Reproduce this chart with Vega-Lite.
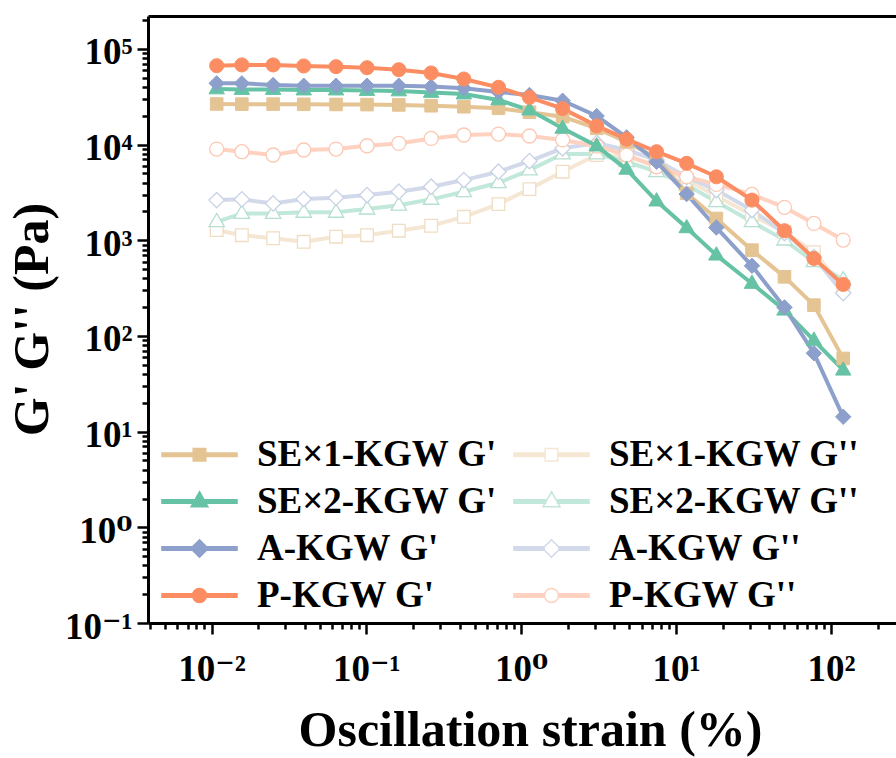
{
  "$schema": "https://vega.github.io/schema/vega-lite/v6.json",
  "width": 748,
  "height": 607,
  "autosize": {"type": "none"},
  "padding": {"left": 148, "top": 16, "right": 0, "bottom": 135},
  "background": "white",
  "config": {"view": {"stroke": null}},
  "data": {"values": [
    {"s": "SE×1-KGW G'", "kind": "storage", "x": 0.0108, "y": 26600},
    {"s": "SE×1-KGW G'", "kind": "storage", "x": 0.0157, "y": 26500},
    {"s": "SE×1-KGW G'", "kind": "storage", "x": 0.025, "y": 26500},
    {"s": "SE×1-KGW G'", "kind": "storage", "x": 0.0394, "y": 26400},
    {"s": "SE×1-KGW G'", "kind": "storage", "x": 0.0637, "y": 26300},
    {"s": "SE×1-KGW G'", "kind": "storage", "x": 0.101, "y": 26200},
    {"s": "SE×1-KGW G'", "kind": "storage", "x": 0.162, "y": 26000},
    {"s": "SE×1-KGW G'", "kind": "storage", "x": 0.262, "y": 25500},
    {"s": "SE×1-KGW G'", "kind": "storage", "x": 0.426, "y": 24900},
    {"s": "SE×1-KGW G'", "kind": "storage", "x": 0.713, "y": 24000},
    {"s": "SE×1-KGW G'", "kind": "storage", "x": 1.13, "y": 21800},
    {"s": "SE×1-KGW G'", "kind": "storage", "x": 1.85, "y": 19600},
    {"s": "SE×1-KGW G'", "kind": "storage", "x": 3.07, "y": 14800},
    {"s": "SE×1-KGW G'", "kind": "storage", "x": 4.79, "y": 10700},
    {"s": "SE×1-KGW G'", "kind": "storage", "x": 7.48, "y": 7240},
    {"s": "SE×1-KGW G'", "kind": "storage", "x": 11.7, "y": 3100},
    {"s": "SE×1-KGW G'", "kind": "storage", "x": 18.2, "y": 1690},
    {"s": "SE×1-KGW G'", "kind": "storage", "x": 30.9, "y": 789},
    {"s": "SE×1-KGW G'", "kind": "storage", "x": 50.1, "y": 415},
    {"s": "SE×1-KGW G'", "kind": "storage", "x": 77.6, "y": 210},
    {"s": "SE×1-KGW G'", "kind": "storage", "x": 120, "y": 58.2},

    {"s": "SE×2-KGW G'", "kind": "storage", "x": 0.0108, "y": 38200},
    {"s": "SE×2-KGW G'", "kind": "storage", "x": 0.0157, "y": 37700},
    {"s": "SE×2-KGW G'", "kind": "storage", "x": 0.025, "y": 37700},
    {"s": "SE×2-KGW G'", "kind": "storage", "x": 0.0394, "y": 37200},
    {"s": "SE×2-KGW G'", "kind": "storage", "x": 0.0637, "y": 37200},
    {"s": "SE×2-KGW G'", "kind": "storage", "x": 0.101, "y": 36800},
    {"s": "SE×2-KGW G'", "kind": "storage", "x": 0.162, "y": 36400},
    {"s": "SE×2-KGW G'", "kind": "storage", "x": 0.262, "y": 35100},
    {"s": "SE×2-KGW G'", "kind": "storage", "x": 0.426, "y": 33800},
    {"s": "SE×2-KGW G'", "kind": "storage", "x": 0.713, "y": 29300},
    {"s": "SE×2-KGW G'", "kind": "storage", "x": 1.13, "y": 23000},
    {"s": "SE×2-KGW G'", "kind": "storage", "x": 1.85, "y": 14800},
    {"s": "SE×2-KGW G'", "kind": "storage", "x": 3.07, "y": 9660},
    {"s": "SE×2-KGW G'", "kind": "storage", "x": 4.79, "y": 5520},
    {"s": "SE×2-KGW G'", "kind": "storage", "x": 7.48, "y": 2570},
    {"s": "SE×2-KGW G'", "kind": "storage", "x": 11.7, "y": 1350},
    {"s": "SE×2-KGW G'", "kind": "storage", "x": 18.2, "y": 700},
    {"s": "SE×2-KGW G'", "kind": "storage", "x": 30.9, "y": 354},
    {"s": "SE×2-KGW G'", "kind": "storage", "x": 50.1, "y": 186},
    {"s": "SE×2-KGW G'", "kind": "storage", "x": 77.6, "y": 90},
    {"s": "SE×2-KGW G'", "kind": "storage", "x": 120, "y": 43.9},

    {"s": "A-KGW G'", "kind": "storage", "x": 0.0108, "y": 43700},
    {"s": "A-KGW G'", "kind": "storage", "x": 0.0157, "y": 43700},
    {"s": "A-KGW G'", "kind": "storage", "x": 0.025, "y": 42000},
    {"s": "A-KGW G'", "kind": "storage", "x": 0.0394, "y": 41300},
    {"s": "A-KGW G'", "kind": "storage", "x": 0.0637, "y": 41300},
    {"s": "A-KGW G'", "kind": "storage", "x": 0.101, "y": 41300},
    {"s": "A-KGW G'", "kind": "storage", "x": 0.162, "y": 41300},
    {"s": "A-KGW G'", "kind": "storage", "x": 0.262, "y": 40400},
    {"s": "A-KGW G'", "kind": "storage", "x": 0.426, "y": 38800},
    {"s": "A-KGW G'", "kind": "storage", "x": 0.713, "y": 35500},
    {"s": "A-KGW G'", "kind": "storage", "x": 1.13, "y": 33000},
    {"s": "A-KGW G'", "kind": "storage", "x": 1.85, "y": 28800},
    {"s": "A-KGW G'", "kind": "storage", "x": 3.07, "y": 19900},
    {"s": "A-KGW G'", "kind": "storage", "x": 4.79, "y": 11900},
    {"s": "A-KGW G'", "kind": "storage", "x": 7.48, "y": 6620},
    {"s": "A-KGW G'", "kind": "storage", "x": 11.7, "y": 3040},
    {"s": "A-KGW G'", "kind": "storage", "x": 18.2, "y": 1360},
    {"s": "A-KGW G'", "kind": "storage", "x": 30.9, "y": 541},
    {"s": "A-KGW G'", "kind": "storage", "x": 50.1, "y": 199},
    {"s": "A-KGW G'", "kind": "storage", "x": 77.6, "y": 66},
    {"s": "A-KGW G'", "kind": "storage", "x": 120, "y": 14.3},

    {"s": "P-KGW G'", "kind": "storage", "x": 0.0108, "y": 66900},
    {"s": "P-KGW G'", "kind": "storage", "x": 0.0157, "y": 68100},
    {"s": "P-KGW G'", "kind": "storage", "x": 0.025, "y": 68100},
    {"s": "P-KGW G'", "kind": "storage", "x": 0.0394, "y": 66400},
    {"s": "P-KGW G'", "kind": "storage", "x": 0.0637, "y": 65300},
    {"s": "P-KGW G'", "kind": "storage", "x": 0.101, "y": 63700},
    {"s": "P-KGW G'", "kind": "storage", "x": 0.162, "y": 60700},
    {"s": "P-KGW G'", "kind": "storage", "x": 0.262, "y": 56100},
    {"s": "P-KGW G'", "kind": "storage", "x": 0.426, "y": 48500},
    {"s": "P-KGW G'", "kind": "storage", "x": 0.713, "y": 39700},
    {"s": "P-KGW G'", "kind": "storage", "x": 1.13, "y": 31200},
    {"s": "P-KGW G'", "kind": "storage", "x": 1.85, "y": 23800},
    {"s": "P-KGW G'", "kind": "storage", "x": 3.07, "y": 15700},
    {"s": "P-KGW G'", "kind": "storage", "x": 4.79, "y": 11400},
    {"s": "P-KGW G'", "kind": "storage", "x": 7.48, "y": 8430},
    {"s": "P-KGW G'", "kind": "storage", "x": 11.7, "y": 6370},
    {"s": "P-KGW G'", "kind": "storage", "x": 18.2, "y": 4610},
    {"s": "P-KGW G'", "kind": "storage", "x": 30.9, "y": 2630},
    {"s": "P-KGW G'", "kind": "storage", "x": 50.1, "y": 1260},
    {"s": "P-KGW G'", "kind": "storage", "x": 77.6, "y": 647},
    {"s": "P-KGW G'", "kind": "storage", "x": 120, "y": 346},

    {"s": "SE×1-KGW G''", "kind": "loss", "x": 0.0108, "y": 1280},
    {"s": "SE×1-KGW G''", "kind": "loss", "x": 0.0157, "y": 1130},
    {"s": "SE×1-KGW G''", "kind": "loss", "x": 0.025, "y": 1050},
    {"s": "SE×1-KGW G''", "kind": "loss", "x": 0.0394, "y": 964},
    {"s": "SE×1-KGW G''", "kind": "loss", "x": 0.0637, "y": 1090},
    {"s": "SE×1-KGW G''", "kind": "loss", "x": 0.101, "y": 1130},
    {"s": "SE×1-KGW G''", "kind": "loss", "x": 0.162, "y": 1260},
    {"s": "SE×1-KGW G''", "kind": "loss", "x": 0.262, "y": 1420},
    {"s": "SE×1-KGW G''", "kind": "loss", "x": 0.426, "y": 1760},
    {"s": "SE×1-KGW G''", "kind": "loss", "x": 0.713, "y": 2390},
    {"s": "SE×1-KGW G''", "kind": "loss", "x": 1.13, "y": 3430},
    {"s": "SE×1-KGW G''", "kind": "loss", "x": 1.85, "y": 5210},
    {"s": "SE×1-KGW G''", "kind": "loss", "x": 3.07, "y": 7790},
    {"s": "SE×1-KGW G''", "kind": "loss", "x": 4.79, "y": 7500},
    {"s": "SE×1-KGW G''", "kind": "loss", "x": 7.48, "y": 6120},
    {"s": "SE×1-KGW G''", "kind": "loss", "x": 11.7, "y": 4260},
    {"s": "SE×1-KGW G''", "kind": "loss", "x": 18.2, "y": 2900},
    {"s": "SE×1-KGW G''", "kind": "loss", "x": 30.9, "y": 1840},
    {"s": "SE×1-KGW G''", "kind": "loss", "x": 50.1, "y": 1220},
    {"s": "SE×1-KGW G''", "kind": "loss", "x": 77.6, "y": 753},
    {"s": "SE×1-KGW G''", "kind": "loss", "x": 120, "y": 324},

    {"s": "SE×2-KGW G''", "kind": "loss", "x": 0.0108, "y": 1560},
    {"s": "SE×2-KGW G''", "kind": "loss", "x": 0.0157, "y": 1910},
    {"s": "SE×2-KGW G''", "kind": "loss", "x": 0.025, "y": 1910},
    {"s": "SE×2-KGW G''", "kind": "loss", "x": 0.0394, "y": 1960},
    {"s": "SE×2-KGW G''", "kind": "loss", "x": 0.0637, "y": 1960},
    {"s": "SE×2-KGW G''", "kind": "loss", "x": 0.101, "y": 2120},
    {"s": "SE×2-KGW G''", "kind": "loss", "x": 0.162, "y": 2330},
    {"s": "SE×2-KGW G''", "kind": "loss", "x": 0.262, "y": 2680},
    {"s": "SE×2-KGW G''", "kind": "loss", "x": 0.426, "y": 3220},
    {"s": "SE×2-KGW G''", "kind": "loss", "x": 0.713, "y": 3990},
    {"s": "SE×2-KGW G''", "kind": "loss", "x": 1.13, "y": 5420},
    {"s": "SE×2-KGW G''", "kind": "loss", "x": 1.85, "y": 7980},
    {"s": "SE×2-KGW G''", "kind": "loss", "x": 3.07, "y": 7980},
    {"s": "SE×2-KGW G''", "kind": "loss", "x": 4.79, "y": 6620},
    {"s": "SE×2-KGW G''", "kind": "loss", "x": 7.48, "y": 5210},
    {"s": "SE×2-KGW G''", "kind": "loss", "x": 11.7, "y": 3780},
    {"s": "SE×2-KGW G''", "kind": "loss", "x": 18.2, "y": 2530},
    {"s": "SE×2-KGW G''", "kind": "loss", "x": 30.9, "y": 1560},
    {"s": "SE×2-KGW G''", "kind": "loss", "x": 50.1, "y": 1005},
    {"s": "SE×2-KGW G''", "kind": "loss", "x": 77.6, "y": 596},
    {"s": "SE×2-KGW G''", "kind": "loss", "x": 120, "y": 384},

    {"s": "A-KGW G''", "kind": "loss", "x": 0.0108, "y": 2630},
    {"s": "A-KGW G''", "kind": "loss", "x": 0.0157, "y": 2680},
    {"s": "A-KGW G''", "kind": "loss", "x": 0.025, "y": 2430},
    {"s": "A-KGW G''", "kind": "loss", "x": 0.0394, "y": 2700},
    {"s": "A-KGW G''", "kind": "loss", "x": 0.0637, "y": 2790},
    {"s": "A-KGW G''", "kind": "loss", "x": 0.101, "y": 2970},
    {"s": "A-KGW G''", "kind": "loss", "x": 0.162, "y": 3220},
    {"s": "A-KGW G''", "kind": "loss", "x": 0.262, "y": 3630},
    {"s": "A-KGW G''", "kind": "loss", "x": 0.426, "y": 4260},
    {"s": "A-KGW G''", "kind": "loss", "x": 0.713, "y": 5210},
    {"s": "A-KGW G''", "kind": "loss", "x": 1.13, "y": 6730},
    {"s": "A-KGW G''", "kind": "loss", "x": 1.85, "y": 9150},
    {"s": "A-KGW G''", "kind": "loss", "x": 3.07, "y": 10400},
    {"s": "A-KGW G''", "kind": "loss", "x": 4.79, "y": 8790},
    {"s": "A-KGW G''", "kind": "loss", "x": 7.48, "y": 6900},
    {"s": "A-KGW G''", "kind": "loss", "x": 11.7, "y": 4580},
    {"s": "A-KGW G''", "kind": "loss", "x": 18.2, "y": 3350},
    {"s": "A-KGW G''", "kind": "loss", "x": 30.9, "y": 2070},
    {"s": "A-KGW G''", "kind": "loss", "x": 50.1, "y": 1190},
    {"s": "A-KGW G''", "kind": "loss", "x": 77.6, "y": 667},
    {"s": "A-KGW G''", "kind": "loss", "x": 120, "y": 281},

    {"s": "P-KGW G''", "kind": "loss", "x": 0.0108, "y": 8990},
    {"s": "P-KGW G''", "kind": "loss", "x": 0.0157, "y": 8430},
    {"s": "P-KGW G''", "kind": "loss", "x": 0.025, "y": 7790},
    {"s": "P-KGW G''", "kind": "loss", "x": 0.0394, "y": 8790},
    {"s": "P-KGW G''", "kind": "loss", "x": 0.0637, "y": 8990},
    {"s": "P-KGW G''", "kind": "loss", "x": 0.101, "y": 9730},
    {"s": "P-KGW G''", "kind": "loss", "x": 0.162, "y": 10300},
    {"s": "P-KGW G''", "kind": "loss", "x": 0.262, "y": 11600},
    {"s": "P-KGW G''", "kind": "loss", "x": 0.426, "y": 12600},
    {"s": "P-KGW G''", "kind": "loss", "x": 0.713, "y": 12900},
    {"s": "P-KGW G''", "kind": "loss", "x": 1.13, "y": 12300},
    {"s": "P-KGW G''", "kind": "loss", "x": 1.85, "y": 11200},
    {"s": "P-KGW G''", "kind": "loss", "x": 3.07, "y": 9660},
    {"s": "P-KGW G''", "kind": "loss", "x": 4.79, "y": 7790},
    {"s": "P-KGW G''", "kind": "loss", "x": 7.48, "y": 5870},
    {"s": "P-KGW G''", "kind": "loss", "x": 11.7, "y": 4620},
    {"s": "P-KGW G''", "kind": "loss", "x": 18.2, "y": 3840},
    {"s": "P-KGW G''", "kind": "loss", "x": 30.9, "y": 3020},
    {"s": "P-KGW G''", "kind": "loss", "x": 50.1, "y": 2210},
    {"s": "P-KGW G''", "kind": "loss", "x": 77.6, "y": 1500},
    {"s": "P-KGW G''", "kind": "loss", "x": 120, "y": 1005}
  ]},
  "resolve": {
    "scale": {"shape": "independent", "stroke": "independent", "fill": "independent"},
    "axis": {"x": "independent"}
  },
  "encoding": {
    "y": {
      "field": "y", "type": "quantitative",
      "scale": {"type": "log", "domain": [0.1, 221000], "nice": false},
      "axis": {
        "orient": "left",
        "values": [0.1,0.2,0.3,0.4,0.5,0.6,0.7,0.8,0.9,1,2,3,4,5,6,7,8,9,10,20,30,40,50,60,70,80,90,100,200,300,400,500,600,700,800,900,1000,2000,3000,4000,5000,6000,7000,8000,9000,10000,20000,30000,40000,50000,60000,70000,80000,90000,100000,200000],
        "labelExpr": "abs(log(datum.value)/LN10 - round(log(datum.value)/LN10)) < 1e-6 ? '10' + (round(log(datum.value)/LN10) < 0 ? '⁻' : '') + ['⁰','¹','²','³','⁴','⁵','⁶'][abs(round(log(datum.value)/LN10))] : ''",
        "tickSize": {"expr": "abs(log(datum.value)/LN10 - round(log(datum.value)/LN10)) < 1e-6 ? 11 : 6"},
        "tickWidth": 2.5,
        "tickColor": "black",
        "domainColor": "black",
        "domainWidth": 3,
        "grid": false,
        "labelOverlap": false,
        "labelFlush": false,
        "labelFont": "Liberation Serif, DejaVu Serif",
        "labelFontWeight": "bold",
        "labelFontSize": 37,
        "labelColor": "black",
        "labelBaseline": "alphabetic",
        "labelOffset": 15,
        "labelPadding": 5,
        "title": "G' G'' (Pa)",
        "titleFont": "Liberation Serif, DejaVu Serif",
        "titleFontWeight": "bold",
        "titleFontSize": 50,
        "titleColor": "black",
        "titleAngle": -90,
        "titleX": -101,
        "titleY": 303,
        "titleAlign": "center",
        "titleBaseline": "alphabetic"
      }
    }
  },
  "layer": [
    {
      "transform": [{"filter": "datum.kind == 'loss'"}],
      "mark": {"type": "line", "strokeWidth": 4},
      "encoding": {
        "x": {
          "field": "x", "type": "quantitative",
          "scale": {"type": "log", "domain": [0.00389, 263], "nice": false},
          "axis": {
            "orient": "bottom",
            "values": [0.004,0.005,0.006,0.007,0.008,0.009,0.01,0.02,0.03,0.04,0.05,0.06,0.07,0.08,0.09,0.1,0.2,0.3,0.4,0.5,0.6,0.7,0.8,0.9,1,2,3,4,5,6,7,8,9,10,20,30,40,50,60,70,80,90,100,200],
            "labelExpr": "abs(log(datum.value)/LN10 - round(log(datum.value)/LN10)) < 1e-6 ? '10' + (round(log(datum.value)/LN10) < 0 ? '⁻' : '') + ['⁰','¹','²','³','⁴','⁵','⁶'][abs(round(log(datum.value)/LN10))] : ''",
            "tickSize": {"expr": "abs(log(datum.value)/LN10 - round(log(datum.value)/LN10)) < 1e-6 ? 11 : 6"},
            "tickWidth": 2.5,
            "tickColor": "black",
            "domainColor": "black",
            "domainWidth": 3,
            "grid": false,
            "labelOverlap": false,
            "labelFlush": false,
            "labelFont": "Liberation Serif, DejaVu Serif",
            "labelFontWeight": "bold",
            "labelFontSize": 37,
            "labelColor": "black",
            "labelBaseline": "alphabetic",
            "labelPadding": 46,
            "title": "Oscillation strain (%)",
            "titleFont": "Liberation Serif, DejaVu Serif",
            "titleFontWeight": "bold",
            "titleFontSize": 50,
            "titleColor": "black",
            "titleX": 382,
            "titleY": 122,
            "titleAlign": "center",
            "titleBaseline": "alphabetic"
          }
        },
        "stroke": {
          "field": "s", "type": "nominal",
          "scale": {"domain": ["SE×1-KGW G''", "SE×2-KGW G''", "A-KGW G''", "P-KGW G''"], "range": ["#F5E7D4", "#C2E7DB", "#D1D9EA", "#FED1C0"]},
          "legend": null
        }
      }
    },
    {
      "transform": [{"filter": "datum.kind == 'loss'"}],
      "mark": {"type": "point", "filled": true, "fill": "white", "opacity": 1, "size": 196, "strokeWidth": 1.3},
      "encoding": {
        "x": {
          "field": "x", "type": "quantitative",
          "scale": {"type": "log", "domain": [0.00389, 263], "nice": false},
          "axis": {"orient": "top", "labels": false, "ticks": false, "title": null, "grid": false, "domainColor": "black", "domainWidth": 3}
        },
        "stroke": {
          "field": "s", "type": "nominal",
          "scale": {"domain": ["SE×1-KGW G''", "SE×2-KGW G''", "A-KGW G''", "P-KGW G''"], "range": ["#F0DDC3", "#B5E0D1", "#C8D1E6", "#FDC8B3"]},
          "legend": null
        },
        "shape": {
          "field": "s", "type": "nominal",
          "scale": {"domain": ["SE×1-KGW G''", "SE×2-KGW G''", "A-KGW G''", "P-KGW G''"], "range": ["M-0.9,-0.9H0.9V0.9H-0.9Z", "M0,-1.2L1.1,0.7H-1.1Z", "M0,-1.1L1.1,0L0,1.1L-1.1,0Z", "M-1,0A1,1,0,1,0,1,0A1,1,0,1,0,-1,0Z"]},
          "legend": null
        }
      }
    },
    {
      "transform": [{"filter": "datum.kind == 'storage'"}],
      "mark": {"type": "line", "strokeWidth": 4},
      "encoding": {
        "x": {"field": "x", "type": "quantitative", "scale": {"type": "log", "domain": [0.00389, 263], "nice": false}, "axis": null},
        "stroke": {
          "field": "s", "type": "nominal",
          "scale": {"domain": ["SE×1-KGW G'", "SE×2-KGW G'", "A-KGW G'", "P-KGW G'"], "range": ["#E5C494", "#66C2A5", "#8DA0CB", "#FC8D62"]},
          "legend": null
        }
      }
    },
    {
      "transform": [{"filter": "datum.kind == 'storage'"}],
      "mark": {"type": "point", "filled": true, "opacity": 1, "size": 196, "strokeWidth": 1},
      "encoding": {
        "x": {"field": "x", "type": "quantitative", "scale": {"type": "log", "domain": [0.00389, 263], "nice": false}, "axis": null},
        "stroke": {
          "field": "s", "type": "nominal",
          "scale": {"domain": ["SE×1-KGW G'", "SE×2-KGW G'", "A-KGW G'", "P-KGW G'"], "range": ["#E5C494", "#66C2A5", "#8DA0CB", "#FC8D62"]},
          "legend": null
        },
        "fill": {
          "field": "s", "type": "nominal",
          "scale": {"domain": ["SE×1-KGW G'", "SE×2-KGW G'", "A-KGW G'", "P-KGW G'"], "range": ["#E5C494", "#66C2A5", "#8DA0CB", "#FC8D62"]},
          "legend": null
        },
        "shape": {
          "field": "s", "type": "nominal",
          "scale": {"domain": ["SE×1-KGW G'", "SE×2-KGW G'", "A-KGW G'", "P-KGW G'"], "range": ["M-0.9,-0.9H0.9V0.9H-0.9Z", "M0,-1.2L1.1,0.7H-1.1Z", "M0,-1.1L1.1,0L0,1.1L-1.1,0Z", "M-1,0A1,1,0,1,0,1,0A1,1,0,1,0,-1,0Z"]},
          "legend": null
        }
      }
    },
    {
      "transform": [{"filter": "datum.x < 0"}],
      "mark": {"type": "point", "filled": true, "opacity": 1},
      "encoding": {
        "x": {"field": "x", "type": "quantitative", "scale": {"type": "log", "domain": [0.00389, 263], "nice": false}, "axis": null},
        "shape": {
          "field": "s", "type": "nominal",
          "scale": {
            "domain": ["SE×1-KGW G'", "SE×1-KGW G''", "SE×2-KGW G'", "SE×2-KGW G''", "A-KGW G'", "A-KGW G''", "P-KGW G'", "P-KGW G''"],
            "range": [
              "M-5.36,-0.25H-0.9V-0.036H-5.36Z M-5.36,0.036H-0.9V0.25H-5.36Z M0.9,-0.25H5.36V-0.036H0.9Z M0.9,0.036H5.36V0.25H0.9Z M-0.9,-0.9H0.9V0.9H-0.9Z",
              "M-5.36,-0.25H-0.9V-0.036H-5.36Z M-5.36,0.036H-0.9V0.25H-5.36Z M0.9,-0.25H5.36V-0.036H0.9Z M0.9,0.036H5.36V0.25H0.9Z M-0.9,-0.9H0.9V0.9H-0.9Z",
              "M-5.36,-0.25H-0.85V-0.036H-5.36Z M-5.36,0.036H-0.85V0.25H-5.36Z M0.85,-0.25H5.36V-0.036H0.85Z M0.85,0.036H5.36V0.25H0.85Z M0,-1.4L1.2,0.75H-1.2Z",
              "M-5.36,-0.25H-0.85V-0.036H-5.36Z M-5.36,0.036H-0.85V0.25H-5.36Z M0.85,-0.25H5.36V-0.036H0.85Z M0.85,0.036H5.36V0.25H0.85Z M0,-1.4L1.2,0.75H-1.2Z",
              "M-5.36,-0.25H-1.05V-0.036H-5.36Z M-5.36,0.036H-1.05V0.25H-5.36Z M1.05,-0.25H5.36V-0.036H1.05Z M1.05,0.036H5.36V0.25H1.05Z M0,-1.25L1.25,0L0,1.25L-1.25,0Z",
              "M-5.36,-0.25H-1.05V-0.036H-5.36Z M-5.36,0.036H-1.05V0.25H-5.36Z M1.05,-0.25H5.36V-0.036H1.05Z M1.05,0.036H5.36V0.25H1.05Z M0,-1.25L1.25,0L0,1.25L-1.25,0Z",
              "M-5.36,-0.25H-0.97V-0.036H-5.36Z M-5.36,0.036H-0.97V0.25H-5.36Z M0.97,-0.25H5.36V-0.036H0.97Z M0.97,0.036H5.36V0.25H0.97Z M-1,0A1,1,0,1,0,1,0A1,1,0,1,0,-1,0Z",
              "M-5.36,-0.25H-0.97V-0.036H-5.36Z M-5.36,0.036H-0.97V0.25H-5.36Z M0.97,-0.25H5.36V-0.036H0.97Z M0.97,0.036H5.36V0.25H0.97Z M-1,0A1,1,0,1,0,1,0A1,1,0,1,0,-1,0Z"
            ]
          },
          "legend": {
            "title": null,
            "orient": "none",
            "direction": "horizontal",
            "legendX": 33,
            "legendY": 420,
            "columns": 2,
            "columnPadding": 12,
            "rowPadding": 9,
            "padding": 0,
            "symbolSize": 196,
            "symbolStrokeWidth": 1.5,
            "labelOffset": 39,
            "labelFont": "Liberation Serif, DejaVu Serif",
            "labelFontWeight": "bold",
            "labelFontSize": 37,
            "labelColor": "black",
            "labelLimit": 600
          }
        },
        "stroke": {
          "field": "s", "type": "nominal",
          "scale": {
            "domain": ["SE×1-KGW G'", "SE×1-KGW G''", "SE×2-KGW G'", "SE×2-KGW G''", "A-KGW G'", "A-KGW G''", "P-KGW G'", "P-KGW G''"],
            "range": ["#E5C494", "#F5E7D4", "#66C2A5", "#C2E7DB", "#8DA0CB", "#D1D9EA", "#FC8D62", "#FED1C0"]
          }
        },
        "fill": {
          "field": "s", "type": "nominal",
          "scale": {
            "domain": ["SE×1-KGW G'", "SE×1-KGW G''", "SE×2-KGW G'", "SE×2-KGW G''", "A-KGW G'", "A-KGW G''", "P-KGW G'", "P-KGW G''"],
            "range": ["#E5C494", "white", "#66C2A5", "white", "#8DA0CB", "white", "#FC8D62", "white"]
          }
        }
      }
    }
  ]
}
